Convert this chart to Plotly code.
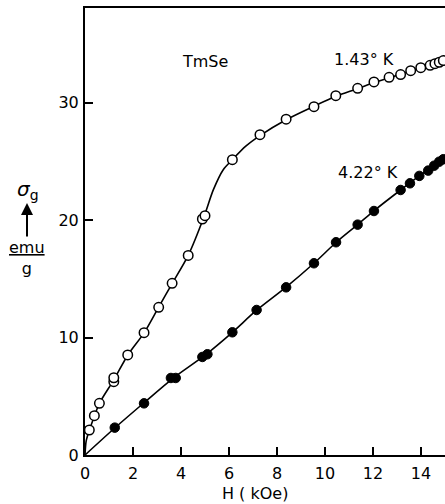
import plotly.graph_objects as go

# 1.43 K measured points (open circles)
h_143 = [0.18, 0.39, 0.60, 1.20, 1.20, 1.78, 2.46, 3.07, 3.63, 4.30, 4.89, 5.00,
         6.14, 7.29, 8.38, 9.54, 10.45, 11.36, 12.04, 12.67, 13.15, 13.57, 13.99,
         14.38, 14.58, 14.76, 14.93]
s_143 = [2.13, 3.35, 4.40, 6.24, 6.58, 8.52, 10.42, 12.58, 14.62, 17.0, 20.1, 20.38,
         25.15, 27.28, 28.6, 29.67, 30.6, 31.23, 31.77, 32.17, 32.4, 32.73, 32.99,
         33.19, 33.33, 33.45, 33.59]

# 1.43 K smooth curve
curve_h_143 = [0, 0.05, 0.18, 0.39, 0.60, 1.20, 1.78, 2.46, 3.07, 3.63, 4.30, 4.95,
               5.35, 5.76, 6.14, 6.70, 7.29, 8.38, 9.54, 10.45, 11.36, 12.04, 12.67,
               13.15, 13.57, 14.0, 14.4, 15.0]
curve_s_143 = [0, 1.2, 2.1, 3.3, 4.4, 6.4, 8.5, 10.4, 12.6, 14.6, 17.0, 20.25,
               22.6, 24.3, 25.15, 26.3, 27.2, 28.55, 29.7, 30.55, 31.2, 31.72, 32.12,
               32.42, 32.72, 32.98, 33.2, 33.6]

# 4.22 K measured points (filled circles)
h_422 = [1.24, 2.46, 3.58, 3.78, 4.89, 5.10, 6.14, 7.15, 8.38, 9.54, 10.46, 11.36,
         12.04, 13.15, 13.54, 13.93, 14.30, 14.55, 14.76, 14.93]
s_422 = [2.33, 4.40, 6.56, 6.56, 8.35, 8.58, 10.45, 12.35, 14.28, 16.33, 18.12, 19.62,
         20.78, 22.57, 23.14, 23.77, 24.22, 24.64, 24.98, 25.19]

# 4.22 K smooth curve
curve_h_422 = [0, 1.24, 2.46, 3.68, 5.0, 6.14, 7.15, 8.38, 9.54, 10.46, 11.36, 12.04,
               13.15, 13.93, 14.55, 15.0]
curve_s_422 = [0, 2.3, 4.45, 6.55, 8.5, 10.45, 12.33, 14.3, 16.33, 18.1, 19.62, 20.8,
               22.57, 23.77, 24.64, 25.25]

x_ticks = [0, 2, 4, 6, 8, 10, 12, 14]
y_ticks = [0, 10, 20, 30]

FONT = "DejaVu Sans"
L, T, B = 85, 8, 49
PW, PH = 445 - L, 504 - T - B


def px_to_paper(px, py):
    return (px - L) / PW, (504 - B - py) / PH


fig = go.Figure()
fig.add_trace(go.Scatter(x=curve_h_143, y=curve_s_143, mode="lines",
                         line=dict(color="black", width=1.6, shape="spline", smoothing=0.8),
                         hoverinfo="skip", showlegend=False))
fig.add_trace(go.Scatter(x=curve_h_422, y=curve_s_422, mode="lines",
                         line=dict(color="black", width=1.6, shape="spline", smoothing=0.8),
                         hoverinfo="skip", showlegend=False))
fig.add_trace(go.Scatter(x=h_143, y=s_143, mode="markers", name="1.43° K",
                         marker=dict(symbol="circle", size=9.5, color="white",
                                     line=dict(color="black", width=1.5)),
                         showlegend=False, cliponaxis=False))
fig.add_trace(go.Scatter(x=h_422, y=s_422, mode="markers", name="4.22° K",
                         marker=dict(symbol="circle", size=9.5, color="black",
                                     line=dict(color="black", width=1)),
                         showlegend=False, cliponaxis=False))

axis_common = dict(showgrid=False, zeroline=False, showline=True, linecolor="black",
                   linewidth=2, ticks="inside", ticklen=8, tickwidth=1.5,
                   tickcolor="black", tickfont=dict(family=FONT, size=16, color="black"))

fig.update_xaxes(range=[0, 15], tickvals=x_ticks, ticktext=[str(v) for v in x_ticks],
                 mirror=True, ticklabelstandoff=3, **axis_common)
fig.update_yaxes(range=[0, 38.07], tickvals=y_ticks, ticktext=[str(v) for v in y_ticks],
                 mirror=False, ticklabelstandoff=1, **axis_common)

ann_font = dict(family=FONT, size=16, color="black")
fig.add_annotation(x=5.0, y=33.5, text="TmSe", showarrow=False, font=ann_font,
                   xanchor="center", yanchor="middle")
fig.add_annotation(x=11.63, y=33.65, text="1.43° K", showarrow=False, font=ann_font,
                   xanchor="center", yanchor="middle")
fig.add_annotation(x=11.8, y=24.1, text="4.22° K", showarrow=False, font=ann_font,
                   xanchor="center", yanchor="middle")

# x axis title
fx, fy = px_to_paper(255, 493)
fig.add_annotation(x=fx, y=fy, xref="paper", yref="paper", text="H ( kOe)",
                   showarrow=False, font=dict(family=FONT, size=16, color="black"),
                   xanchor="center", yanchor="middle")

# y axis label: sigma_g, arrow, emu/g
sx, sy = px_to_paper(28, 190)
fig.add_annotation(x=sx, y=sy, xref="paper", yref="paper", text="<i>σ</i><sub>g</sub>",
                   showarrow=False, font=dict(family=FONT, size=20, color="black"),
                   xanchor="center", yanchor="middle")
axx, axy = px_to_paper(27, 203)
fig.add_annotation(x=axx, y=axy, xref="paper", yref="paper", ax=0, ay=35,
                   text="", showarrow=True, arrowhead=2, arrowsize=1.2, arrowwidth=2,
                   arrowcolor="black")
ex, ey = px_to_paper(27, 258)
fig.add_annotation(x=ex, y=ey, xref="paper", yref="paper",
                   text="<u>emu</u><br>g", showarrow=False,
                   font=dict(family=FONT, size=16, color="black"), align="center",
                   xanchor="center", yanchor="middle")

fig.update_layout(width=445, height=504, margin=dict(l=L, r=0, t=T, b=B),
                  plot_bgcolor="white", paper_bgcolor="white", showlegend=False)

fig.write_html("out.html")
